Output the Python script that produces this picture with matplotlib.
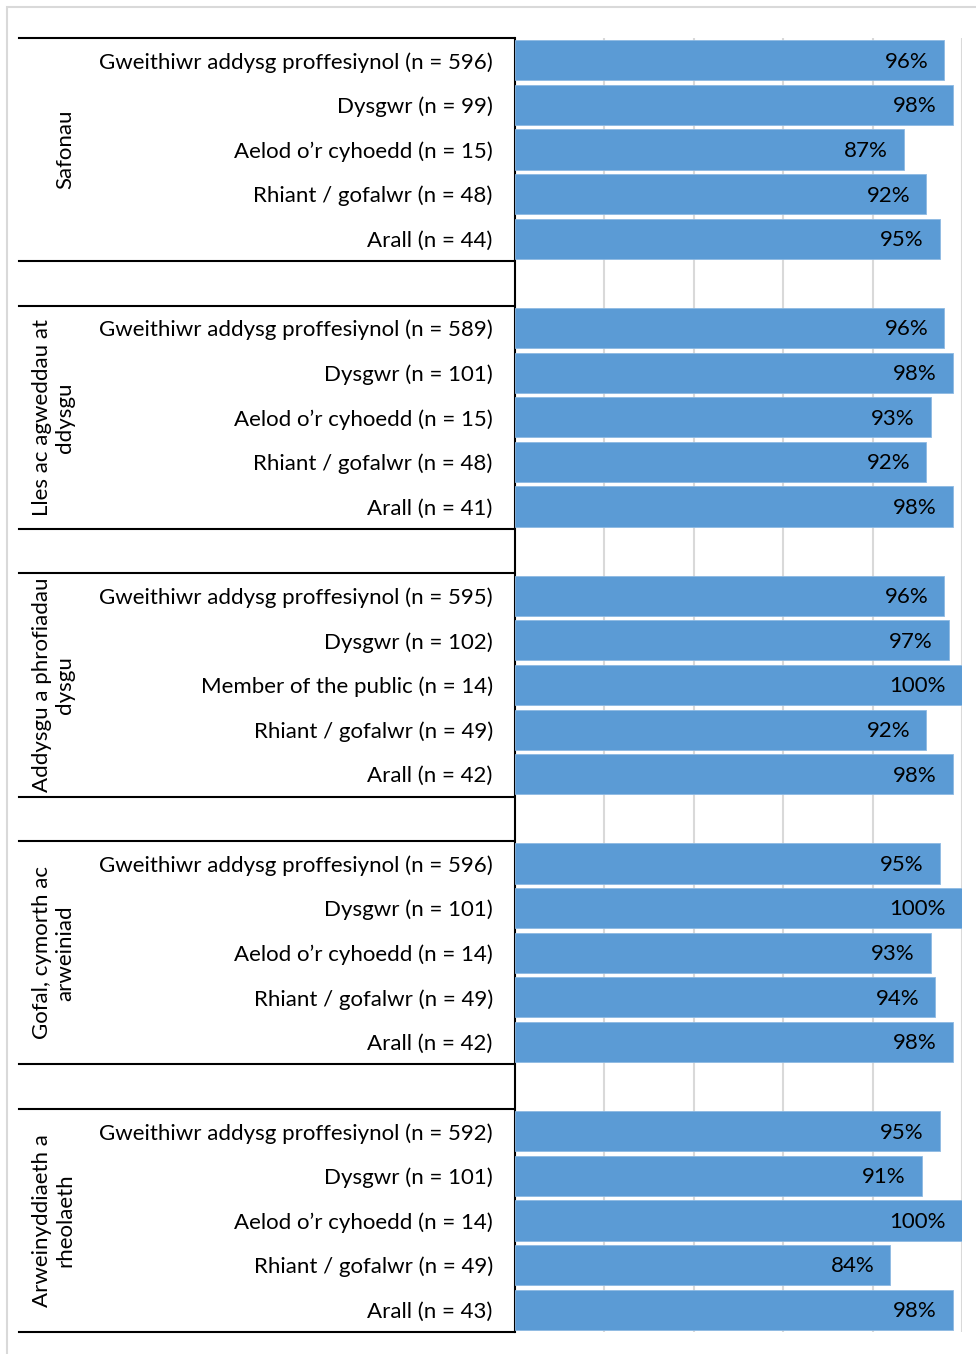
import matplotlib.pyplot as plt
from matplotlib.transforms import blended_transform_factory
from matplotlib.lines import Line2D
from matplotlib.patches import Rectangle

plt.rcParams['font.family'] = ['Lato', 'DejaVu Sans']

# data
groups = ['Safonau', 'Lles ac agweddau at\nddysgu', 'Addysgu a phrofiadau\ndysgu',
          'Gofal, cymorth ac\narweiniad', 'Arweinyddiaeth a\nrheolaeth']
labels_1 = ['Gweithiwr addysg proffesiynol (n = 596)', 'Dysgwr (n = 99)',
            'Aelod o’r cyhoedd (n = 15)', 'Rhiant / gofalwr (n = 48)', 'Arall (n = 44)']
labels_2 = ['Gweithiwr addysg proffesiynol (n = 589)', 'Dysgwr (n = 101)',
            'Aelod o’r cyhoedd (n = 15)', 'Rhiant / gofalwr (n = 48)', 'Arall (n = 41)']
labels_3 = ['Gweithiwr addysg proffesiynol (n = 595)', 'Dysgwr (n = 102)',
            'Member of the public (n = 14)', 'Rhiant / gofalwr (n = 49)', 'Arall (n = 42)']
labels_4 = ['Gweithiwr addysg proffesiynol (n = 596)', 'Dysgwr (n = 101)',
            'Aelod o’r cyhoedd (n = 14)', 'Rhiant / gofalwr (n = 49)', 'Arall (n = 42)']
labels_5 = ['Gweithiwr addysg proffesiynol (n = 592)', 'Dysgwr (n = 101)',
            'Aelod o’r cyhoedd (n = 14)', 'Rhiant / gofalwr (n = 49)', 'Arall (n = 43)']
values_1 = [0.96, 0.98, 0.87, 0.92, 0.95]
values_2 = [0.96, 0.98, 0.93, 0.92, 0.98]
values_3 = [0.96, 0.97, 1.00, 0.92, 0.98]
values_4 = [0.95, 1.00, 0.93, 0.94, 0.98]
values_5 = [0.95, 0.91, 1.00, 0.84, 0.98]

all_labels = [labels_1, labels_2, labels_3, labels_4, labels_5]
all_values = [values_1, values_2, values_3, values_4, values_5]

W, H = 976, 1354
fig = plt.figure(figsize=(W / 100, H / 100), dpi=100)

# outer chart frame (light grey)
fig.patches.append(Rectangle((7 / W, -0.1), 1.2, 1.1 - 7 / H, transform=fig.transFigure,
                             fill=False, edgecolor='#D9D9D9', linewidth=1.5))

left, right, top, bottom = 515, 962, 38, 1332
ax = fig.add_axes([left / W, 1 - bottom / H, (right - left) / W, (bottom - top) / H])

# rows: 5 bars per group + 1 empty row between groups
ypos, vals, ticklabels = [], [], []
row = 0
for g in range(5):
    for lab, v in zip(all_labels[g], all_values[g]):
        ypos.append(row)
        vals.append(v)
        ticklabels.append(lab)
        row += 1
    row += 1
last = ypos[-1]

ax.barh(ypos, vals, height=0.9, color='#5B9BD5', edgecolor='#8DB9E3', linewidth=0.6, zorder=3)
for y, v in zip(ypos, vals):
    ax.annotate('{:.0%}'.format(v), (v, y), xytext=(-11.5, -1), textcoords='offset points',
                ha='right', va='center', fontsize=16, color='black', zorder=4)

ax.set_xlim(0, 1)
ax.set_ylim(last + 0.5, -0.5)
ax.set_xticks([0.2, 0.4, 0.6, 0.8, 1.0])
ax.xaxis.grid(True, color='#D9D9D9', linewidth=1.5, zorder=0)
ax.tick_params(axis='x', length=0, labelbottom=False)
ax.set_yticks(ypos)
ax.set_yticklabels(ticklabels, fontsize=16)
ax.tick_params(axis='y', length=0, pad=16)
for s in ['top', 'right', 'bottom']:
    ax.spines[s].set_visible(False)
ax.spines['left'].set_linewidth(1.5)
ax.spines['left'].set_color('black')

# group separators and group titles
tr = blended_transform_factory(fig.transFigure, ax.transData)
for g in range(5):
    y0 = g * 6 - 0.5
    y1 = g * 6 + 4.5
    for yy in [y0, y1]:
        fig.add_artist(Line2D([19 / W, 514 / W], [yy, yy], transform=tr,
                              color='black', linewidth=1.5))
    fig.text(75 / W, g * 6 + 2, groups[g], transform=tr, rotation=90,
             ha='right', va='center', multialignment='center', fontsize=16)

fig.savefig('out.png', dpi=100)
